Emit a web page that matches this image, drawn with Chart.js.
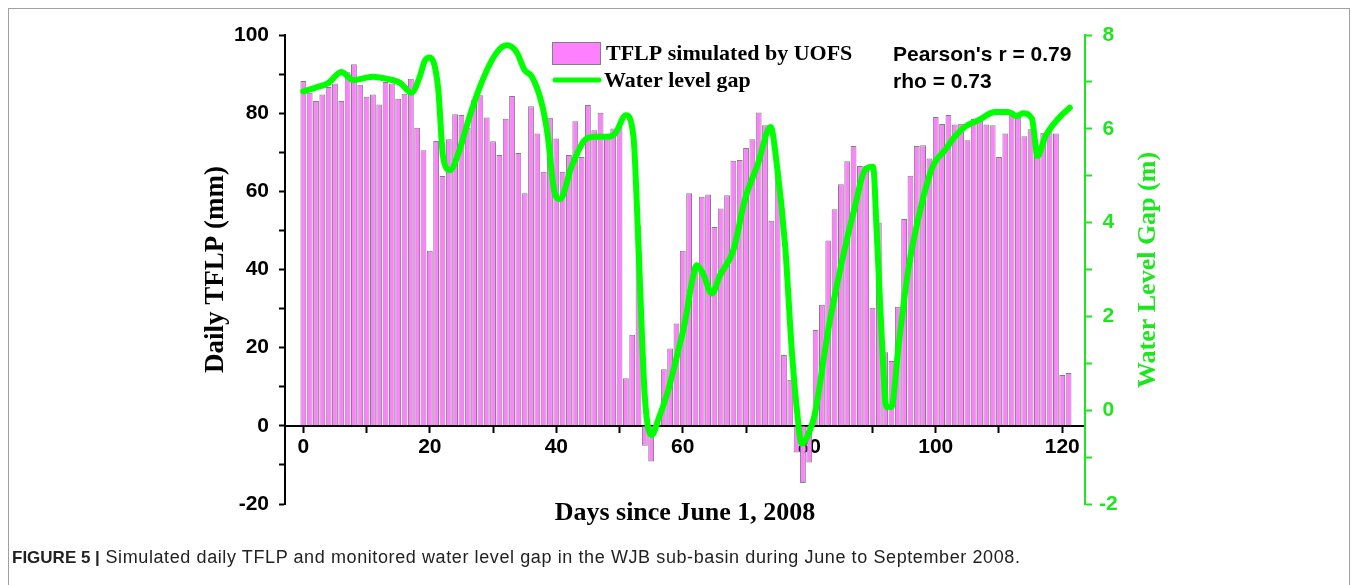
<!DOCTYPE html>
<html>
<head>
<meta charset="utf-8">
<script src="https://cdn.jsdelivr.net/npm/chart.js@4.4.0/dist/chart.umd.min.js"></script>
<style>
    body { margin: 0; background: #fff; }
    #wrap { position: relative; width: 1355px; height: 585px; overflow: hidden; background: #fff; }
    #frame { position: absolute; left: 8px; top: 8px; width: 1340px; height: 640px; border: 1px solid #a0a0a0; }
    #chart { position: absolute; left: 0; top: 0; }
    #caption { position: absolute; left: 12px; top: 547px; font: 18px "Liberation Sans", Arial, sans-serif; letter-spacing: 0.6px; color: #222; white-space: nowrap; }
    #caption b { font-size: 17px; letter-spacing: 0; }
</style>
</head>
<body>
<div id="wrap">
    <div id="frame"></div>
    <canvas id="chart" width="1355" height="585"></canvas>
    <div id="caption"><b>FIGURE 5 |</b> Simulated daily TFLP and monitored water level gap in the WJB sub-basin during June to September 2008.</div>
</div>
<script>
// Daily TFLP (mm), one value per day since June 1, 2008 (day 0 .. 121)
const tflp = [
    88.2, 85.2, 83.1, 84.8, 86.7, 87.6, 83.1, 90.5, 92.5, 87.3,
    84.2, 84.8, 82.2, 88.0, 87.6, 83.7, 85.0, 88.8, 76.3, 70.5,
    44.8, 72.9, 63.9, 73.3, 79.7, 79.5, 76.3, 83.5, 84.6, 78.9,
    72.8, 69.3, 78.6, 84.4, 69.8, 59.5, 81.8, 74.8, 65.0, 78.8,
    73.5, 65.0, 69.3, 77.9, 68.8, 82.1, 75.6, 80.1, 73.9, 76.1,
    76.5, 12.2, 23.3, 51.2, -5.1, -9.1, 0.7, 14.5, 19.8, 26.2,
    44.8, 59.5, 41.0, 58.6, 59.2, 50.9, 55.6, 59.0, 67.8, 68.0,
    71.1, 73.3, 80.2, 76.9, 52.5, 65.4, 18.1, 11.8, -6.8, -14.6,
    -9.4, 24.5, 31.0, 47.4, 55.4, 61.8, 67.7, 71.6, 66.5, 66.5,
    30.2, 52.0, 18.8, 16.6, 30.5, 52.9, 64.0, 71.6, 71.8, 68.4,
    79.0, 77.2, 79.5, 77.1, 77.3, 73.1, 78.5, 78.9, 77.1, 76.9,
    68.8, 74.8, 80.7, 79.5, 74.1, 75.9, 69.7, 75.0, 75.9, 74.8,
    13.0, 13.5
];

// Water level gap (m)
const waterDays = [
    0, 2, 4, 6, 7.9, 11, 13, 15.3, 17.1, 18.4,
    19.2, 20.0, 21.3, 22.1, 23.2, 24.5, 26.1, 27.7, 29.8, 31.2,
    32.2, 33.7, 35.0, 36.1, 37.7, 38.6, 39.8, 40.6, 42.4, 44.5,
    46.1, 48.2, 49.3, 51.0, 52.2, 53.0, 54.0, 55.1, 56.1, 57.7,
    59.3, 60.3, 61.4, 62.2, 63.2, 64.6, 65.9, 68.0, 69.8, 71.9,
    73.9, 74.85, 76.2, 77.2, 78.0, 78.8, 80.1, 80.9, 83.0, 85.1,
    87.2, 88.8, 90.1, 90.65, 91.4, 92.2, 93.0, 94.1, 95.65, 97.8,
    99.6, 101.5, 103.0, 104.6, 106.7, 109.4, 111.5, 112.8, 113.8, 115.2,
    116.1, 117.3, 119.4, 121.2
];
const waterGap = [
    6.80, 6.88, 6.98, 7.21, 7.04, 7.11, 7.07, 6.98, 6.77, 7.11,
    7.45, 7.52, 6.89, 5.40, 5.12, 5.47, 6.18, 6.82, 7.46, 7.72,
    7.78, 7.64, 7.25, 7.12, 6.54, 5.90, 4.60, 4.50, 5.19, 5.76,
    5.83, 5.83, 5.90, 6.29, 5.83, 3.48, 0.28, -0.53, -0.21, 0.43,
    1.28, 1.85, 2.70, 3.09, 2.91, 2.49, 2.88, 3.41, 4.48, 5.26,
    6.04, 5.26, 3.48, 1.35, 0.07, -0.71, -0.43, -0.07, 1.71, 3.13,
    4.33, 5.12, 5.19, 3.84, 1.71, 0.07, 0.07, 1.35, 2.99, 4.41,
    5.22, 5.55, 5.83, 6.04, 6.18, 6.36, 6.36, 6.27, 6.33, 6.22,
    5.42, 5.83, 6.22, 6.45
];

const seriesNames = ['TFLP simulated by UOFS', 'Water level gap'];
const statsLines = ["Pearson's r = 0.79", 'rho = 0.73'];
const xTitle = 'Days since June 1, 2008';
const leftTitle = 'Daily TFLP (mm)';
const rightTitle = 'Water Level Gap (m)';

const barColor = '#ff80ff';
const barEdge = '#808080';
const lineGreen = '#00ff00';
const axisGreen = '#1ee61e';

// Legend, stats and the right axis title
const overlayText = {
    id: 'overlayText',
    afterDraw(chart) {
        const ctx = chart.ctx;
        ctx.save();
        ctx.fillStyle = barColor;
        ctx.fillRect(552, 42, 48, 22);
        ctx.strokeStyle = barEdge;
        ctx.lineWidth = 1;
        ctx.strokeRect(552.5, 42.5, 48, 22);

        ctx.strokeStyle = lineGreen;
        ctx.lineWidth = 5;
        ctx.lineCap = 'round';
        ctx.beginPath();
        ctx.moveTo(555, 80);
        ctx.lineTo(599, 80);
        ctx.stroke();

        ctx.fillStyle = '#000';
        ctx.textBaseline = 'middle';
        ctx.font = 'bold 22px "Liberation Serif"';
        ctx.fillText(seriesNames[0], 606, 54);
        ctx.fillText(seriesNames[1], 604, 81);

        ctx.font = 'bold 21px "Liberation Sans"';
        ctx.fillText(statsLines[0], 893, 55);
        ctx.fillText(statsLines[1], 893, 82);

        ctx.translate(1148, 270);
        ctx.rotate(-Math.PI / 2);
        ctx.textAlign = 'center';
        ctx.fillStyle = axisGreen;
        ctx.font = 'bold 26px "Liberation Serif"';
        ctx.fillText(rightTitle, 0, 0);
        ctx.restore();
    }
};

const tickFont = { family: 'Liberation Sans', size: 21, weight: 'bold' };

new Chart(document.getElementById('chart'), {
    type: 'bar',
    data: {
        datasets: [
            {
                type: 'line',
                label: seriesNames[1],
                data: waterDays.map((d, i) => ({ x: d, y: waterGap[i] })),
                yAxisID: 'y2',
                borderColor: lineGreen,
                borderWidth: 6,
                borderCapStyle: 'round',
                borderJoinStyle: 'round',
                pointRadius: 0,
                cubicInterpolationMode: 'monotone',
                order: 0
            },
            {
                label: seriesNames[0],
                data: tflp.map((v, i) => ({ x: i, y: v })),
                yAxisID: 'y',
                backgroundColor: barColor,
                borderColor: barEdge,
                borderWidth: 1,
                barPercentage: 0.92,
                categoryPercentage: 1.0,
                order: 1
            }
        ]
    },
    options: {
        responsive: false,
        animation: false,
        layout: { padding: { left: 0, right: 0, top: 35, bottom: 81 } },
        plugins: {
            legend: { display: false },
            tooltip: { enabled: false }
        },
        scales: {
            x: {
                type: 'linear',
                position: { y: 0 },
                z: 1,
                min: -2.9,
                max: 123.6,
                offset: false,
                grid: { drawOnChartArea: false, offset: false, tickLength: 6, tickColor: '#000', tickWidth: 2 },
                border: { color: '#000', width: 2 },
                ticks: {
                    stepSize: 10,
                    includeBounds: false,
                    color: '#000',
                    font: tickFont,
                    padding: 3,
                    maxRotation: 0,
                    autoSkip: false,
                    callback: v => (v % 20 === 0 ? v : '')
                },
                title: {
                    display: true,
                    text: xTitle,
                    color: '#000',
                    font: { family: 'Liberation Serif', size: 26, weight: 'bold' },
                    padding: { top: 35, bottom: 0 }
                }
            },
            y: {
                position: 'left',
                min: -20,
                max: 100,
                grid: { drawOnChartArea: false, tickLength: 6, tickColor: '#000', tickWidth: 2 },
                border: { color: '#000', width: 2 },
                ticks: {
                    stepSize: 10,
                    color: '#000',
                    font: tickFont,
                    padding: 10,
                    autoSkip: false,
                    callback: v => (v % 20 === 0 ? v : '')
                },
                title: {
                    display: true,
                    text: leftTitle,
                    color: '#000',
                    font: { family: 'Liberation Serif', size: 27, weight: 'bold' },
                    padding: { top: 200, bottom: 0 }
                },
                afterFit(scale) { scale.width = 285; }
            },
            y2: {
                position: 'right',
                min: -2,
                max: 8,
                grid: { drawOnChartArea: false, tickLength: 7, tickColor: axisGreen, tickWidth: 2 },
                border: { color: axisGreen, width: 2 },
                ticks: {
                    stepSize: 1,
                    color: axisGreen,
                    font: tickFont,
                    padding: 7,
                    crossAlign: 'center',
                    autoSkip: false,
                    callback: v => (v % 2 === 0 ? v : '')
                },
                afterFit(scale) { scale.width = 270; }
            }
        }
    },
    plugins: [overlayText]
});
</script>
</body>
</html>
